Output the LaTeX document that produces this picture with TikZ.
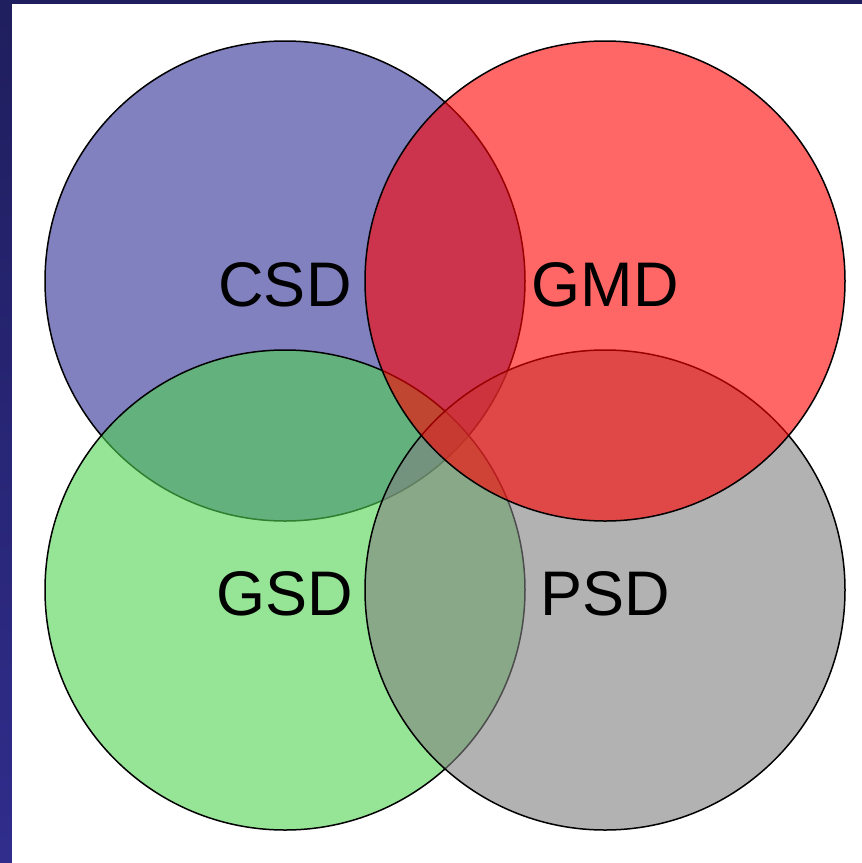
\documentclass[tikz,border=0pt]{standalone}
\usepackage{fontspec}
\setmainfont{Liberation Sans}
\usepackage{tikz}

\definecolor{bandtop}{RGB}{31,30,94}
\definecolor{bandbot}{RGB}{48,45,140}
\definecolor{csdblue}{RGB}{45,45,150}
\definecolor{gmdred}{RGB}{255,0,0}
\definecolor{gsdgreen}{RGB}{80,210,80}
\definecolor{psdgray}{RGB}{128,128,128}

\begin{document}
\begin{tikzpicture}[
    x=1pt, y=-1pt,
    set/.style={circle, draw=black, line width=1.5pt, fill opacity=0.6, text opacity=1,
        minimum size=480pt, inner sep=0pt, text height=51pt, text depth=0pt,
        font=\fontsize{63}{70}\selectfont}
]
\useasboundingbox (0,0) rectangle (862,863);
\shade[top color=bandtop, bottom color=bandbot] (0,0) rectangle (862,863);
\fill[white] (12,4) rectangle (862,863);
\node[set, fill=csdblue] (csd) at (285,281) {CSD};
\node[set, fill=gsdgreen] (gsd) at (285,590) {GSD};
\node[set, fill=psdgray] (psd) at (605,590) {PSD};
\node[set, fill=gmdred] (gmd) at (605,281) {GMD};
\end{tikzpicture}
\end{document}
